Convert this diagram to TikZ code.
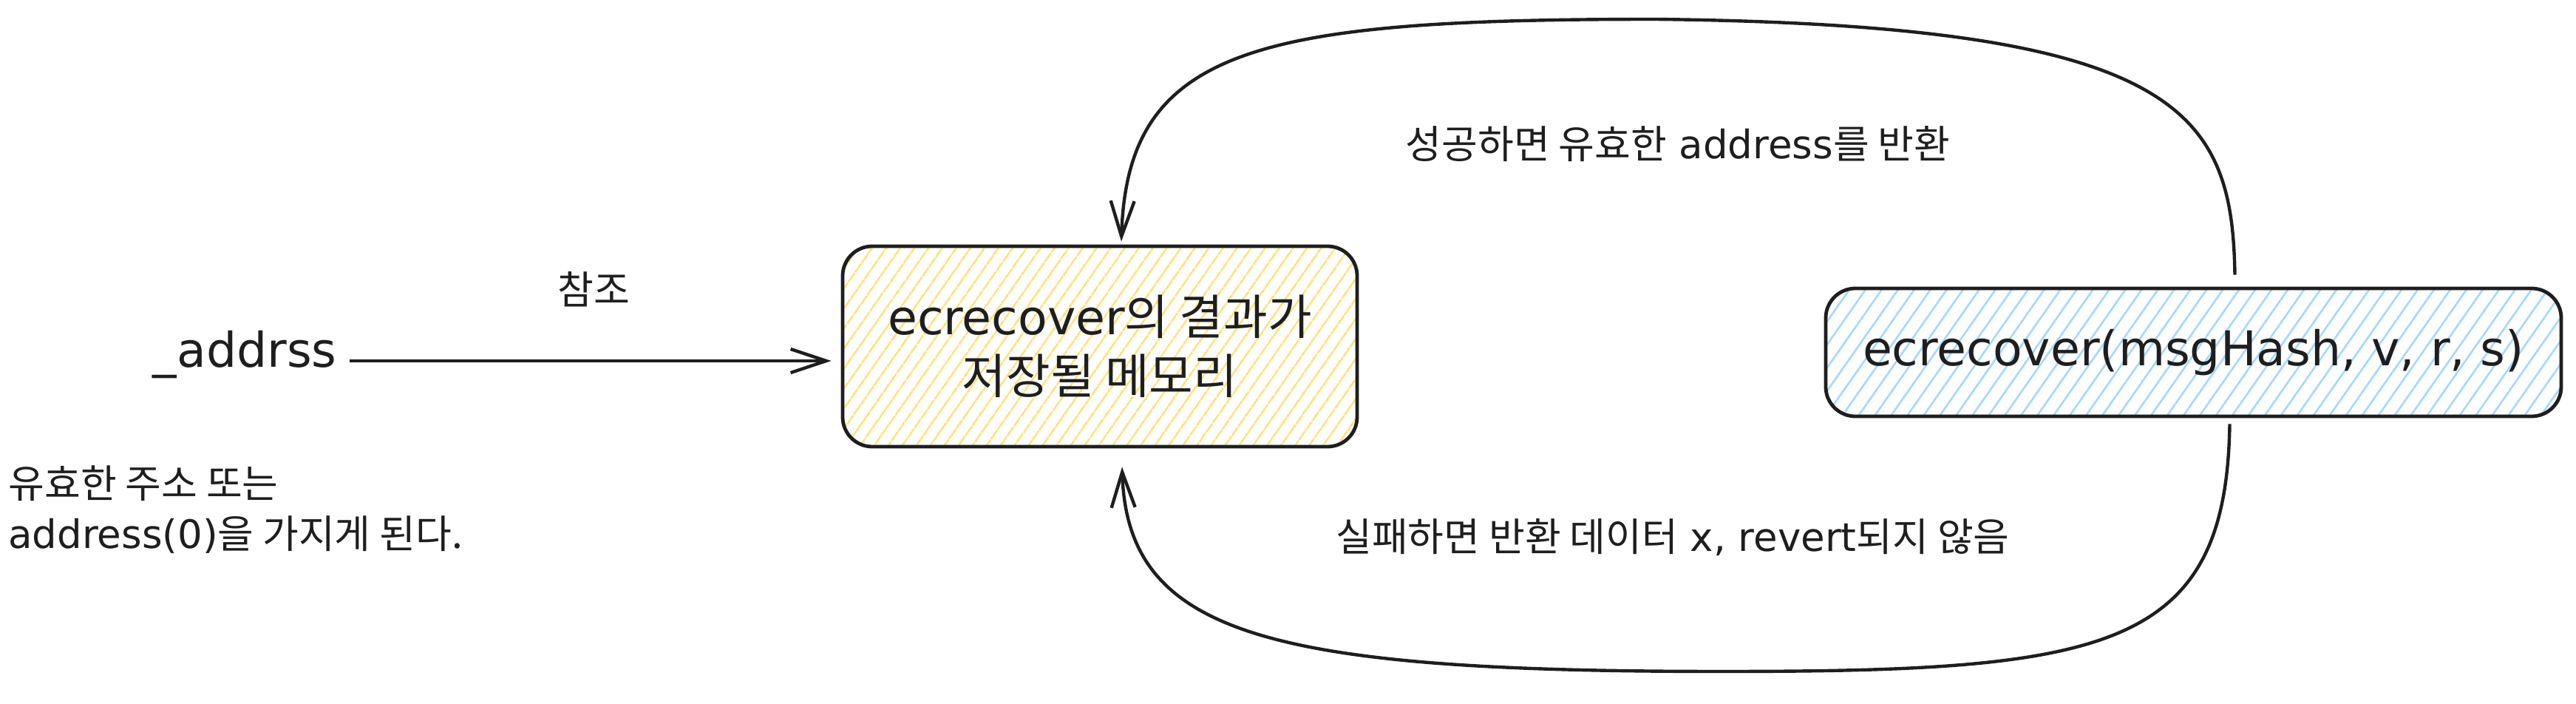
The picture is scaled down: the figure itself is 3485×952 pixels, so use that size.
\documentclass[tikz,border=0pt]{standalone}
\usepackage{fontspec}
\setmainfont{DejaVu Sans}
\newfontfamily\krfont{Noto Sans CJK KR}
\newcommand{\ko}[1]{{\krfont #1}}
\usetikzlibrary{arrows.meta,patterns.meta,calc}
\definecolor{ink}{HTML}{1E1E1E}
\definecolor{hatchyellow}{HTML}{FFE07A}
\definecolor{hatchblue}{HTML}{A5D8FF}
\tikzset{every picture/.style={line width=0.75pt}}

\begin{document}
\begin{tikzpicture}[x=0.25pt,y=0.25pt,yscale=-1,xscale=1,
  bigfont/.style={font=\fontsize{16.2}{20}\selectfont},
  smallfont/.style={font=\fontsize{13.25}{17}\selectfont},
  sketchbox/.style={draw=ink, line width=1.2pt, rounded corners=10pt, align=center, text=ink, inner sep=0pt, bigfont},
  arrowline/.style={draw=ink, line width=1.1pt, -{Straight Barb[length=12pt,width=8pt]}}]
	\useasboundingbox (0,0) rectangle (3485,952);

	%Shape: Rounded Rect [memory]
	\node (mem) at (1488,468.5) [sketchbox, minimum width=174pt, minimum height=67.75pt, pattern={Lines[angle=55,distance=4pt,line width=0.7pt]}, pattern color=hatchyellow] {ecrecover\ko{의 결과가}\\\ko{저장될 메모리}};
	%Shape: Rounded Rect [ecrecover call]
	\node (rec) at (2967.5,476.5) [sketchbox, minimum width=248.75pt, minimum height=43.25pt, pattern={Lines[angle=55,distance=4.5pt,line width=0.65pt]}, pattern color=hatchblue] {ecrecover(msgHash, v, r, s)};

	% Text Node
	\node (addr) at (457,497) [anchor=base east, inner sep=0pt, text=ink, bigfont] {\_addrss};
	% Text Node
	\node (ref) at (803,391) [inner sep=0pt, text=ink, smallfont] {\ko{참조}};
	% Text Node
	\node (note) at (10,689) [anchor=west, align=left, inner sep=0pt, text=ink, smallfont] {\ko{유효한 주소 또는}\\address(0)\ko{을 가지게 된다.}};
	% Text Node
	\node (oklabel) at (2270,195) [inner sep=0pt, text=ink, smallfont] {\ko{성공하면 유효한} address\ko{를 반환}};
	% Text Node
	\node (faillabel) at (2263,727) [inner sep=0pt, text=ink, smallfont] {\ko{실패하면 반환 데이터} x, revert\ko{되지 않음}};

	%Straight Lines [addr -> mem]
	\draw [arrowline, shorten <=4pt, shorten >=3.5pt] ([yshift=2pt]addr.east) -- ([yshift=2pt]addr.east -| mem.west);

	%Curve Lines [success]
	\coordinate (okstart) at ($(rec.north)+(56,-17)$);
	\coordinate (okend) at ($(mem.north)+(29,-5)$);
	\draw [arrowline] (okstart) .. controls (3020,150) and (2950,34) .. (2240,26) .. controls (1700,26) and (1525,64) .. (okend);

	%Curve Lines [failure]
	\coordinate (failstart) at ($(rec.south)+(49,9)$);
	\coordinate (failend) at ($(mem.south)+(30,26)$);
	\draw [arrowline] (failstart) .. controls (3012,880) and (2850,908) .. (2330,908) .. controls (1720,908) and (1525,860) .. (failend);
\end{tikzpicture}
\end{document}
